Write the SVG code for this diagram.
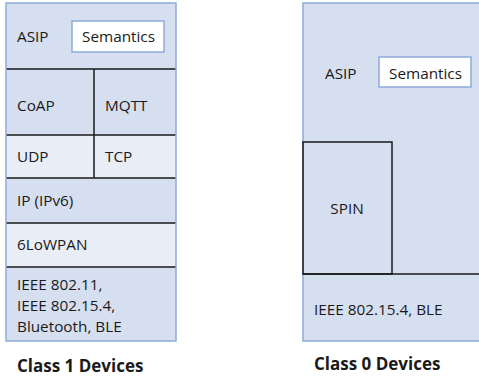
<svg xmlns="http://www.w3.org/2000/svg" width="479" height="379" viewBox="0 0 479 379">
<style>
text{font-family:"Open Sans","Noto Sans",sans-serif;font-size:15.3px;fill:#1a1a1a}
.dark{fill:#d6dff0}
.light{fill:#e9edf6}
.outer{fill:none;stroke:#8eaadb;stroke-width:1.5}
.div{stroke:#1a1a1a;stroke-width:1.5;fill:none}
.sem{fill:#fff;stroke:#8eaadb;stroke-width:1.5}
.title{font-weight:bold;font-size:17px}
</style>
<rect width="479" height="379" fill="#fff"/>
<g id="class1">
  <rect class="dark" x="6" y="3" width="170" height="66"/>
  <rect class="dark" x="6" y="69" width="170" height="66"/>
  <rect class="light" x="6" y="135" width="170" height="43"/>
  <rect class="dark" x="6" y="178" width="170" height="45"/>
  <rect class="light" x="6" y="223" width="170" height="44"/>
  <rect class="dark" x="6" y="267" width="170" height="74"/>
  <path class="div" d="M6 69H176M6 135H176M6 178H176M6 223H176M6 267H176M94 69V178"/>
  <rect class="outer" x="6" y="3" width="170" height="338"/>
</g>
<g id="asip1">
  <text x="17" y="42">ASIP</text>
  <rect class="sem" x="72" y="21" width="92" height="31"/>
  <text x="82" y="42">Semantics</text>
</g>
<g id="coap"><text x="17" y="111">CoAP</text></g>
<g id="mqtt"><text x="105" y="111">MQTT</text></g>
<g id="udp"><text x="17" y="162">UDP</text></g>
<g id="tcp"><text x="105" y="162">TCP</text></g>
<g id="ip"><text x="17" y="206">IP (IPv6)</text></g>
<g id="lowpan"><text x="17" y="250">6LoWPAN</text></g>
<g id="phy1">
  <text x="17" y="290">IEEE 802.11,</text>
  <text x="17" y="311">IEEE 802.15.4,</text>
  <text x="17" y="332">Bluetooth, BLE</text>
</g>
<text class="title" x="17" y="372">Class 1 Devices</text>
<g id="class0">
  <rect class="dark" x="303" y="3" width="178" height="338"/>
  <path class="outer" d="M480 3H303V341H480"/>
  <path class="div" d="M303 274H479"/>
</g>
<g id="asip0">
  <text x="325" y="79">ASIP</text>
  <rect class="sem" x="379" y="57" width="92" height="30"/>
  <text x="389" y="79">Semantics</text>
</g>
<g id="spin">
  <rect class="div" x="303" y="142" width="89" height="132"/>
  <text x="347" y="214" text-anchor="middle">SPIN</text>
</g>
<g id="phy0"><text x="314" y="315">IEEE 802.15.4, BLE</text></g>
<text class="title" x="314" y="370">Class 0 Devices</text>
<g id="connectors"/>
</svg>
